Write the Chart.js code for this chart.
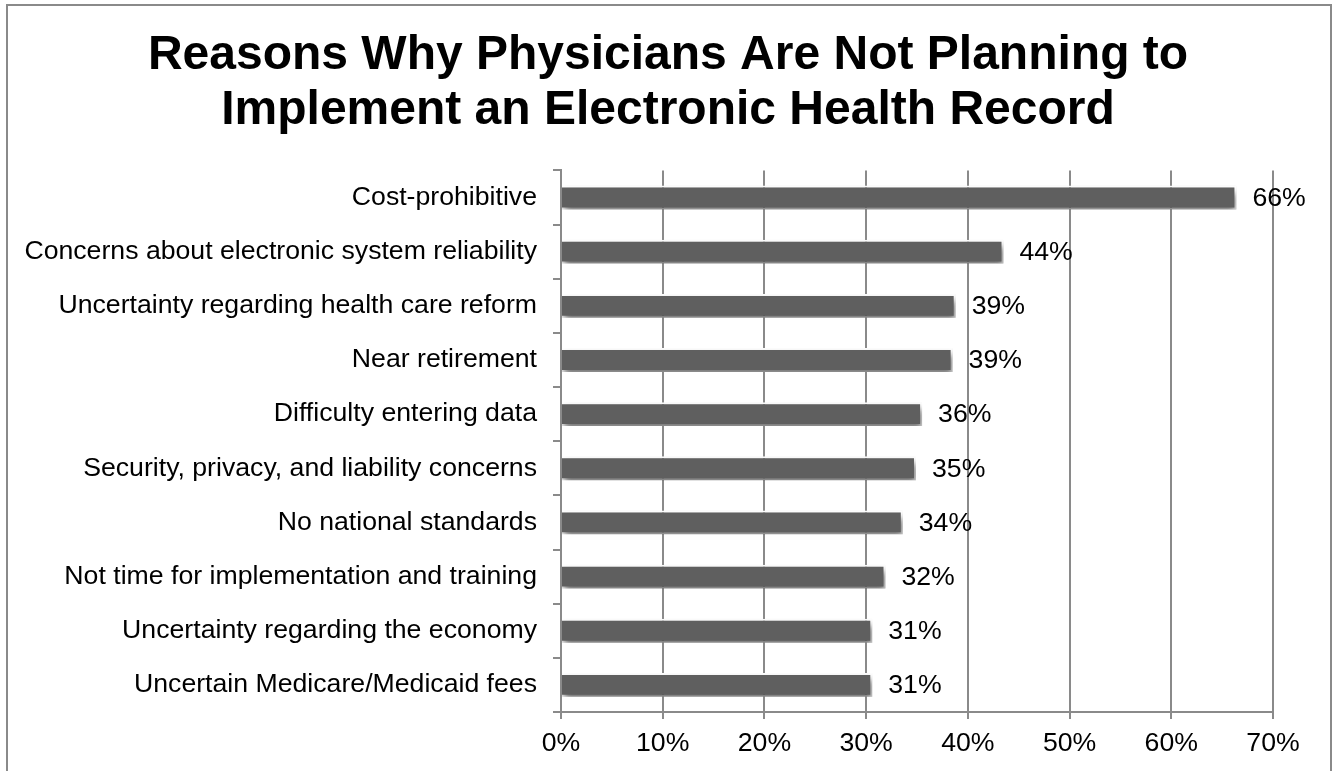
<!DOCTYPE html>
<html>
<head>
<meta charset="utf-8">
<script src="https://cdn.jsdelivr.net/npm/chart.js@4/dist/chart.umd.min.js"></script>
<style>
    html, body { margin: 0; padding: 0; background: #fff; }
    #wrap { position: relative; width: 1336px; height: 771px; overflow: hidden; }
    #frame {
        position: absolute; left: 6px; top: 4px; width: 1322px; height: 800px;
        border: 2px solid #8a8a8a; border-bottom: none; pointer-events: none;
    }
</style>
</head>
<body>
<div id="wrap">
    <canvas id="chart" width="1336" height="771"></canvas>
    <div id="frame"></div>
</div>
<script>
const titleLines = ['Reasons Why Physicians Are Not Planning to', 'Implement an Electronic Health Record'];

const reasons = [
    'Cost-prohibitive',
    'Concerns about electronic system reliability',
    'Uncertainty regarding health care reform',
    'Near retirement',
    'Difficulty entering data',
    'Security, privacy, and liability concerns',
    'No national standards',
    'Not time for implementation and training',
    'Uncertainty regarding the economy',
    'Uncertain Medicare/Medicaid fees',
];

// percent of physicians (bar lengths)
const shares = [66.4, 43.5, 38.8, 38.5, 35.5, 34.9, 33.6, 31.9, 30.6, 30.6];

const axisMin = 0;
const axisMax = 70;
const axisStep = 10;

const FONT = '"Liberation Sans", Arial, sans-serif';
const GRID = '#8a8a8a';

// soft drop shadow under the bars
const barShadow = {
    id: 'barShadow',
    beforeDatasetDraw(chart) {
        const ctx = chart.ctx;
        ctx.save();
        ctx.shadowColor = 'rgba(0, 0, 0, 0.55)';
        ctx.shadowBlur = 7;
        ctx.shadowOffsetX = 2;
        ctx.shadowOffsetY = 5;
    },
    afterDatasetDraw(chart) {
        chart.ctx.restore();
    },
};

// value labels at the end of each bar
const valueLabels = {
    id: 'valueLabels',
    afterDatasetsDraw(chart) {
        const ctx = chart.ctx;
        const meta = chart.getDatasetMeta(0);
        ctx.save();
        ctx.font = '26.67px ' + FONT;
        ctx.fillStyle = '#000';
        ctx.textAlign = 'left';
        ctx.textBaseline = 'middle';
        meta.data.forEach((bar, i) => {
            const v = chart.data.datasets[0].data[i];
            ctx.fillText(Math.round(v) + '%', bar.x + 16, bar.y + 1);
        });
        ctx.restore();
    },
};

new Chart(document.getElementById('chart'), {
    type: 'bar',
    data: {
        labels: reasons,
        datasets: [
            {
                data: shares,
                backgroundColor: '#5f5f5f',
                borderColor: '#ffffff',
                borderWidth: 2,
                borderSkipped: 'start',
                categoryPercentage: 1,
                barPercentage: 0.44,
            },
        ],
    },
    options: {
        indexAxis: 'y',
        responsive: false,
        animation: false,
        layout: {
            padding: 0,
        },
        plugins: {
            legend: { display: false },
            tooltip: { enabled: false },
            title: {
                display: true,
                text: titleLines,
                color: '#000',
                font: { family: FONT, size: 48, weight: 'bold', lineHeight: 1.15 },
                padding: { top: 28, bottom: 32 },
            },
        },
        scales: {
            x: {
                min: axisMin,
                max: axisMax,
                ticks: {
                    stepSize: axisStep,
                    color: '#000',
                    font: { family: FONT, size: 26.67 },
                    padding: 9,
                    callback: (v) => v + '%',
                },
                grid: {
                    color: GRID,
                    lineWidth: 2,
                    tickLength: 7,
                },
                border: { display: true, color: GRID, width: 2 },
                afterFit(scale) {
                    scale.height = 59;
                },
            },
            y: {
                ticks: {
                    color: '#000',
                    font: { family: FONT, size: 26.67 },
                    padding: 16,
                },
                grid: {
                    offset: true,
                    drawOnChartArea: false,
                    color: GRID,
                    lineWidth: 2,
                    tickLength: 8,
                },
                border: { display: true, color: GRID, width: 2 },
                afterFit(scale) {
                    scale.width = 561;
                },
            },
            // empty right-hand axis, only reserves room so the title stays centred on the page
            spacer: {
                type: 'category',
                position: 'right',
                axis: 'y',
                ticks: { display: false },
                grid: { display: false },
                border: { display: false },
                afterFit(scale) {
                    scale.width = 63;
                },
            },
        },
    },
    plugins: [barShadow, valueLabels],
});
</script>
</body>
</html>
